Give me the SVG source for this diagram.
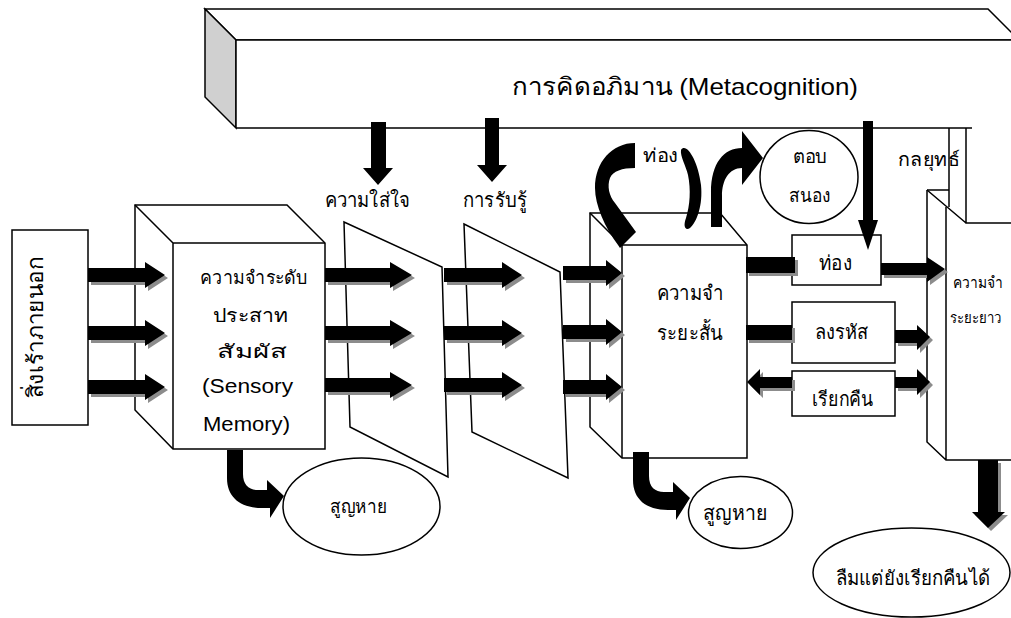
<svg xmlns="http://www.w3.org/2000/svg" width="1011" height="618" viewBox="0 0 1011 618">
  <style>
    .ln{fill:none;stroke:#000;stroke-width:1.5}
    .face{fill:#fff;stroke:#000;stroke-width:1.5}
    .side{fill:#d0d0d0;stroke:#000;stroke-width:1.5}
    .ink{fill:#000}
    .shadow{fill:#8c8c8c}
    text{font-family:"Liberation Sans","DejaVu Sans",sans-serif;fill:#000}
  </style>
  <defs>
    <!-- straight block arrows that cast a grey drop shadow -->
    <g id="shadowed-arrows">
      <polygon points="88,268 145,268 145,262 165,275 145,288 145,282 88,282"/>
      <polygon points="88,326 145,326 145,320 165,333 145,346 145,340 88,340"/>
      <polygon points="88,380 145,380 145,374 165,387 145,400 145,394 88,394"/>
      <polygon points="325,268 390,268 390,262 412,275 390,288 390,282 325,282"/>
      <polygon points="325,326 390,326 390,320 412,333 390,346 390,340 325,340"/>
      <polygon points="325,378 390,378 390,372 412,385 390,398 390,392 325,392"/>
      <polygon points="444,268 502,268 502,262 522,275 502,288 502,282 444,282"/>
      <polygon points="444,326 502,326 502,320 522,333 502,346 502,340 444,340"/>
      <polygon points="444,378 502,378 502,372 522,385 502,398 502,392 444,392"/>
      <polygon points="563,266 606,266 606,260 622,273 606,286 606,280 563,280"/>
      <polygon points="563,325 606,325 606,319 622,332 606,345 606,339 563,339"/>
      <polygon points="563,380 606,380 606,374 622,387 606,400 606,394 563,394"/>
      <rect x="746" y="257" width="49" height="16"/>
      <rect x="746" y="325" width="46" height="15"/>
      <polygon points="881,263 927,263 927,257 945,269 927,282 927,275 881,275"/>
      <polygon points="895,330 917,330 917,325 930,337 917,350 917,343 895,343"/>
      <polygon points="895,377 917,377 917,369 930,382 917,395 917,388 895,388"/>
      <polygon points="792,377 760,377 760,369 747,382 760,395 760,388 792,388"/>
      <polygon points="978,460 998,460 998,512 1005,512 988,528 972,512 978,512"/>
    </g>
    <!-- bent arrow leaving a memory store towards a "lost" bubble -->
    <path id="drop-arrow" d="M227 450 L227 478 C227 497 240 508 262 508 L270 508 L270 518 L284 496 L267 480 L267 490 L258 490 C249 490 243 485 243 474 L243 450 Z"/>
  </defs>

  <rect width="1011" height="618" fill="#fff"/>

  <!-- metacognition bar -->
  <g id="metacognition">
    <polygon class="face" points="205,9 988,9 1019,40 236,40"/>
    <polygon class="side" points="205,9 236,40 236,128 205,97"/>
    <rect x="236" y="40" width="780" height="88" fill="#fff"/>
    <path class="ln" d="M236 40 H1011 M236 40 V128 M236 128 H972"/>
    <text x="512" y="95" font-size="24" textLength="346" lengthAdjust="spacingAndGlyphs">การคิดอภิมาน (Metacognition)</text>
  </g>

  <!-- strategy panel behind long-term memory -->
  <g id="strategy">
    <path class="ln" d="M949 128 V207 M966 128 V223 H1011 M927 190 L966 223"/>
    <text x="898" y="166" font-size="19" textLength="62" lengthAdjust="spacingAndGlyphs">กลยุทธ์</text>
  </g>

  <!-- external stimulus -->
  <g id="stimulus">
    <rect class="face" x="12" y="230" width="76" height="195"/>
    <text transform="translate(43,398) rotate(-90)" font-size="22" textLength="141" lengthAdjust="spacingAndGlyphs">สิ่งเร้าภายนอก</text>
  </g>

  <!-- sensory memory store -->
  <g id="sensory-memory">
    <polygon class="face" points="135,205 287,205 325,243 325,449 173,449 135,410"/>
    <path class="ln" d="M135 205 L173 243 H325 M173 243 V449"/>
    <text x="200" y="284" font-size="19" textLength="107" lengthAdjust="spacingAndGlyphs">ความจำระดับ</text>
    <text x="213" y="322" font-size="19" textLength="76" lengthAdjust="spacingAndGlyphs">ประสาท</text>
    <text x="217" y="358" font-size="19" textLength="70" lengthAdjust="spacingAndGlyphs">สัมผัส</text>
    <text x="202" y="393" font-size="20" textLength="91" lengthAdjust="spacingAndGlyphs">(Sensory</text>
    <text x="203" y="431" font-size="20" textLength="87" lengthAdjust="spacingAndGlyphs">Memory)</text>
  </g>

  <!-- attention filter -->
  <g id="attention">
    <polygon class="face" points="344,222 442,267 448,477 350,427"/>
    <text x="325" y="207" font-size="20" textLength="85" lengthAdjust="spacingAndGlyphs">ความใส่ใจ</text>
  </g>

  <!-- perception filter -->
  <g id="perception">
    <polygon class="face" points="464,224 560,272 568,478 472,432"/>
    <text x="463" y="207" font-size="20" textLength="64" lengthAdjust="spacingAndGlyphs">การรับรู้</text>
  </g>

  <!-- short-term memory store -->
  <g id="short-term-memory">
    <polygon class="face" points="590,213 720,213 747,245 747,458 622,458 590,427"/>
    <path class="ln" d="M590 213 L622 245 H747 M622 245 V458"/>
    <text x="657" y="300" font-size="20" textLength="66" lengthAdjust="spacingAndGlyphs">ความจำ</text>
    <text x="657" y="340" font-size="20" textLength="66" lengthAdjust="spacingAndGlyphs">ระยะสั้น</text>
  </g>

  <!-- response bubble -->
  <g id="response">
    <ellipse class="face" cx="809" cy="177" rx="49" ry="46.5"/>
    <text x="793" y="163" font-size="19" textLength="34" lengthAdjust="spacingAndGlyphs">ตอบ</text>
    <text x="789" y="202" font-size="19" textLength="41" lengthAdjust="spacingAndGlyphs">สนอง</text>
  </g>

  <!-- processes between short and long-term memory -->
  <g id="rehearse">
    <rect class="face" x="792" y="235" width="89" height="50"/>
    <text x="819" y="270" font-size="20" textLength="33" lengthAdjust="spacingAndGlyphs">ท่อง</text>
  </g>
  <g id="encode">
    <rect class="face" x="792" y="302" width="103" height="61"/>
    <text x="815" y="339" font-size="20" textLength="53" lengthAdjust="spacingAndGlyphs">ลงรหัส</text>
  </g>
  <g id="retrieve">
    <rect class="face" x="792" y="371" width="103" height="45"/>
    <text x="812" y="406" font-size="20" textLength="61" lengthAdjust="spacingAndGlyphs">เรียกคืน</text>
  </g>

  <!-- long-term memory store -->
  <g id="long-term-memory">
    <path class="ln" d="M927 190 H949 M927 190 V442 L946 460 H1011 M946 207 V460"/>
    <text x="953" y="288" font-size="16" textLength="50" lengthAdjust="spacingAndGlyphs">ความจำ</text>
    <text x="950" y="323" font-size="15" textLength="51" lengthAdjust="spacingAndGlyphs">ระยะยาว</text>
  </g>

  <!-- outcome bubbles -->
  <g id="lost-sensory">
    <ellipse class="face" cx="361.5" cy="506.5" rx="78.5" ry="48.5"/>
    <text x="330" y="513" font-size="19" textLength="57" lengthAdjust="spacingAndGlyphs">สูญหาย</text>
  </g>
  <g id="lost-short-term">
    <ellipse class="face" cx="740.5" cy="512.5" rx="52" ry="36"/>
    <text x="703" y="520" font-size="21" textLength="64" lengthAdjust="spacingAndGlyphs">สูญหาย</text>
  </g>
  <g id="forgotten-retrievable">
    <ellipse class="face" cx="911.5" cy="572.5" rx="98.5" ry="44.5"/>
    <text x="836" y="585" font-size="20" textLength="154" lengthAdjust="spacingAndGlyphs">ลืมแต่ยังเรียกคืนได้</text>
  </g>

  <!-- connectors -->
  <g id="connectors">
    <use href="#shadowed-arrows" class="shadow" transform="translate(3,3)"/>
    <use href="#shadowed-arrows" class="ink"/>
    <polygon class="ink" points="371,122 386,122 386,168 393,168 378,185 363,168 371,168"/>
    <polygon class="ink" points="485,118 499,118 499,165 507,165 492,182 477,165 485,165"/>
    <polygon class="ink" points="863,121 873,121 873,220 878,220 868,250 858,220 863,220"/>
    <!-- rehearsal loop over short-term memory -->
    <path class="ink" d="M635 143 C612 143 595 162 595 188 C595 205 605 228 618 245 L620 248 L636 232 L615 203 C609 196 607 186 610 178 C613 171 622 168 635 168 Z"/>
    <path class="ink" d="M681 150 C686 142 698 160 701 185 C703 205 697 222 690 228 C685 231 683 226 686 218 C690 205 691 190 688 175 C686 166 680 156 681 150 Z"/>
    <text x="643" y="162" font-size="19" textLength="35" lengthAdjust="spacingAndGlyphs">ท่อง</text>
    <!-- short-term memory to response -->
    <path class="ink" d="M711 227 L711 192 C711 163 724 148 742 148 L742 131 L763 158 L742 185 L742 168 C729 168 722 180 722 196 L722 227 Z"/>
    <use href="#drop-arrow" class="ink"/>
    <use href="#drop-arrow" class="ink" transform="translate(406,2)"/>
  </g>
</svg>
